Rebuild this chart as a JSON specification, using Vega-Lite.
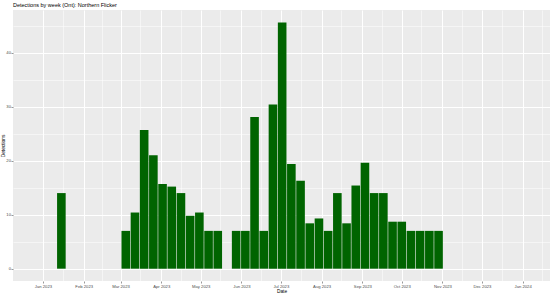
{
  "$schema": "https://vega.github.io/schema/vega-lite/v6.json",
  "width": 537,
  "height": 271,
  "autosize": {"type": "none"},
  "padding": {"left": 13, "top": 10, "right": 3, "bottom": 14},
  "background": "white",
  "title": {"text": "Detections by week (Ont): Northern Flicker", "anchor": "start", "frame": "group", "fontSize": 5.5, "font": "Liberation Sans", "fontWeight": "normal", "color": "black", "offset": 2},
  "config": {
    "view": {"fill": "#EBEBEB", "stroke": null},
    "axis": {
      "domain": false,
      "tickColor": "#333333",
      "tickSize": 2,
      "tickWidth": 0.5,
      "labelColor": "#4D4D4D",
      "labelFontSize": 4.2,
      "labelFont": "Liberation Sans",
      "gridColor": "white",
      "titleFontSize": 4.8,
      "titleFont": "Liberation Sans",
      "titleFontWeight": "normal",
      "titleColor": "black",
      "labelPadding": 1
    }
  },
  "data": {"values": [
    {"week": "2023-01-15T00:00", "detections": 14},
    {"week": "2023-03-05T00:00", "detections": 7},
    {"week": "2023-03-12T00:00", "detections": 10.4},
    {"week": "2023-03-19T00:00", "detections": 25.7},
    {"week": "2023-03-26T00:00", "detections": 21},
    {"week": "2023-04-02T00:00", "detections": 15.7},
    {"week": "2023-04-09T00:00", "detections": 15.2},
    {"week": "2023-04-16T00:00", "detections": 14},
    {"week": "2023-04-23T00:00", "detections": 9.8},
    {"week": "2023-04-30T00:00", "detections": 10.4},
    {"week": "2023-05-07T00:00", "detections": 7},
    {"week": "2023-05-14T00:00", "detections": 7},
    {"week": "2023-05-28T00:00", "detections": 7},
    {"week": "2023-06-04T00:00", "detections": 7},
    {"week": "2023-06-11T00:00", "detections": 28.1},
    {"week": "2023-06-18T00:00", "detections": 7},
    {"week": "2023-06-25T00:00", "detections": 30.4},
    {"week": "2023-07-02T00:00", "detections": 45.6},
    {"week": "2023-07-09T00:00", "detections": 19.4},
    {"week": "2023-07-16T00:00", "detections": 16.3},
    {"week": "2023-07-23T00:00", "detections": 8.4},
    {"week": "2023-07-30T00:00", "detections": 9.3},
    {"week": "2023-08-06T00:00", "detections": 7},
    {"week": "2023-08-13T00:00", "detections": 14},
    {"week": "2023-08-20T00:00", "detections": 8.4},
    {"week": "2023-08-27T00:00", "detections": 15.4},
    {"week": "2023-09-03T00:00", "detections": 19.6},
    {"week": "2023-09-10T00:00", "detections": 14},
    {"week": "2023-09-17T00:00", "detections": 14},
    {"week": "2023-09-24T00:00", "detections": 8.7},
    {"week": "2023-10-01T00:00", "detections": 8.7},
    {"week": "2023-10-08T00:00", "detections": 7},
    {"week": "2023-10-15T00:00", "detections": 7},
    {"week": "2023-10-22T00:00", "detections": 7},
    {"week": "2023-10-29T00:00", "detections": 7}
  ]},
  "mark": {"type": "bar", "color": "#006400", "size": 8.6},
  "encoding": {
    "x": {
      "field": "week",
      "type": "temporal",
      "title": "Date",
      "scale": {"domain": [{"year": 2022, "month": 12, "date": 13}, {"year": 2024, "month": 1, "date": 18}]},
      "axis": {
        "values": [
          {"year": 2023, "month": 1, "date": 1}, {"year": 2023, "month": 1, "date": 16},
          {"year": 2023, "month": 2, "date": 1}, {"year": 2023, "month": 2, "date": 15},
          {"year": 2023, "month": 3, "date": 1}, {"year": 2023, "month": 3, "date": 16},
          {"year": 2023, "month": 4, "date": 1}, {"year": 2023, "month": 4, "date": 16},
          {"year": 2023, "month": 5, "date": 1}, {"year": 2023, "month": 5, "date": 16},
          {"year": 2023, "month": 6, "date": 1}, {"year": 2023, "month": 6, "date": 16},
          {"year": 2023, "month": 7, "date": 1}, {"year": 2023, "month": 7, "date": 16},
          {"year": 2023, "month": 8, "date": 1}, {"year": 2023, "month": 8, "date": 16},
          {"year": 2023, "month": 9, "date": 1}, {"year": 2023, "month": 9, "date": 16},
          {"year": 2023, "month": 10, "date": 1}, {"year": 2023, "month": 10, "date": 16},
          {"year": 2023, "month": 11, "date": 1}, {"year": 2023, "month": 11, "date": 16},
          {"year": 2023, "month": 12, "date": 1}, {"year": 2023, "month": 12, "date": 16},
          {"year": 2024, "month": 1, "date": 1}, {"year": 2024, "month": 1, "date": 16}
        ],
        "labelExpr": "date(datum.value) === 1 ? timeFormat(datum.value, '%b %Y') : ''",
        "labelOverlap": false,
        "labelFlush": false,
        "gridWidth": {"condition": {"test": "date(datum.value) === 1", "value": 1}, "value": 0.5},
        "tickOpacity": {"condition": {"test": "date(datum.value) === 1", "value": 1}, "value": 0},
        "titlePadding": 0
      }
    },
    "y": {
      "field": "detections",
      "type": "quantitative",
      "title": "Detections",
      "scale": {"domain": [-2.28, 47.9], "nice": false, "zero": false},
      "axis": {
        "values": [0, 5, 10, 15, 20, 25, 30, 35, 40, 45],
        "labelExpr": "datum.value % 10 === 0 ? datum.label : ''",
        "gridWidth": {"condition": {"test": "datum.value % 10 === 0", "value": 1}, "value": 0.5},
        "tickOpacity": {"condition": {"test": "datum.value % 10 === 0", "value": 1}, "value": 0},
        "labelPadding": 0.5,
        "titlePadding": 0.5
      }
    },
    "y2": {"datum": 0}
  }
}
